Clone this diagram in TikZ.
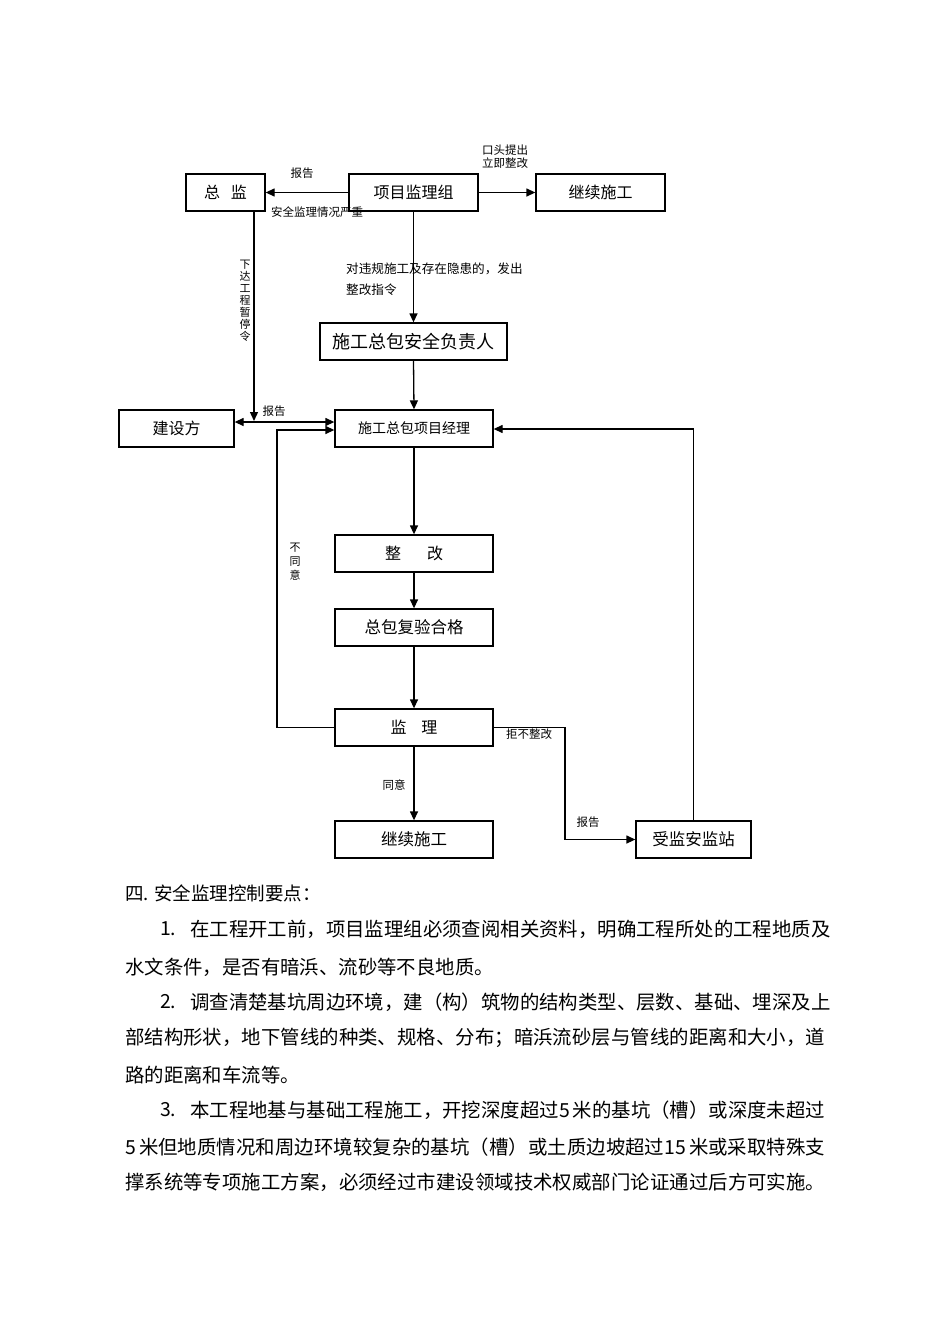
\documentclass[tikz,border=0pt]{standalone}
\usepackage{fontspec}
\setmainfont{Noto Sans CJK SC}
\usetikzlibrary{arrows.meta}
\makeatletter
\def\jlfirst#1{#1\jl@}
\def\jl@#1{\ifx#1\relax\else\hskip0pt plus1fil\relax#1\expandafter\jl@\fi}
\makeatother
\def\jsp{\kern3pt}
\def\jfifteen{15}
\newcommand{\jline}[2]{\hbox to #1{\jlfirst #2\relax}}
\tikzset{
  box/.style={draw, line width=1.3pt, inner sep=0pt, minimum height=37pt, font=\fontsize{16}{16}\selectfont},
  arr/.style={line width=1.3pt, -{Triangle[length=9pt,width=8pt]}},
  dblarr/.style={line width=1.3pt, {Triangle[length=9pt,width=8pt]}-{Triangle[length=9pt,width=8pt]}},
  lab/.style={inner sep=0pt, font=\fontsize{11.5}{13}\selectfont},
  vlab/.style={inner sep=0pt, align=center, font=\fontsize{11}{12}\selectfont},
  body/.style={inner sep=0pt, anchor=west, font=\fontsize{19.4}{19.4}\selectfont},
}
\begin{document}
\begin{tikzpicture}[x=1pt,y=-1pt]
\useasboundingbox[fill=white] (0,0) rectangle (950,1344);
% boxes
\node[box, minimum width=79pt] (zj) at (225.5,192.5) {总\hspace{11pt}监};
\node[box, minimum width=129pt] (xm) at (413.5,192.5) {项目监理组};
\node[box, minimum width=129pt] (jx1) at (600.5,192.5) {继续施工};
\node[box, minimum width=187pt, font=\fontsize{18}{18}\selectfont] (aq) at (413.5,341.5) {施工总包安全负责人};
\node[box, minimum width=115pt] (js) at (176.5,428.5) {建设方};
\node[box, minimum width=158pt, font=\fontsize{14}{14}\selectfont] (jl) at (414,428.5) {施工总包项目经理};
\node[box, minimum width=158pt] (zg) at (414,553.5) {整\hspace{26pt}改};
\node[box, minimum width=158pt, font=\fontsize{16.5}{16.5}\selectfont] (fy) at (414,627.5) {总包复验合格};
\node[box, minimum width=158pt] (ji) at (414,727.5) {监\hspace{15pt}理};
\node[box, minimum width=158pt, font=\fontsize{16.5}{16.5}\selectfont] (jx2) at (414,839.5) {继续施工};
\node[box, minimum width=115pt, font=\fontsize{16.5}{16.5}\selectfont] (sj) at (693.5,839.5) {受监安监站};
% helper coordinates
\coordinate (zjd) at (254,421);
\coordinate (lp) at (277,430);
\coordinate (rp) at (693.5,429);
\coordinate (rf) at (565,727.5);
% connectors
\draw[arr] (xm.west) -- (zj.east);
\draw[arr] (xm.east) -- (jx1.west);
\draw[arr] (xm.south) -- (aq.north);
\draw[arr] (aq.south) -- (jl.north);
\draw[arr] (zj.south -| zjd) -- (zjd);
\draw[dblarr] ([yshift=6.5pt]js.east) -- ([yshift=6.5pt]jl.west);
\draw[arr] (ji.west) -| (lp) -- (lp -| jl.west);
\draw[arr] (sj.north) -- (rp) -- (rp -| jl.east);
\draw[arr] (jl.south) -- (zg.north);
\draw[arr] (zg.south) -- (fy.north);
\draw[arr] (fy.south) -- (ji.north);
\draw[arr] (ji.south) -- (jx2.north);
\draw[arr] (ji.east) -- (rf) |- (sj.west);
% labels
\node[lab] (l1) at (302,173) {报告};
\node[lab, anchor=west] (l2) at (271,212) {安全监理情况严重};
\node[lab, align=left] (l3) at (505,157) {口头提出\\立即整改};
\node[inner sep=0pt, anchor=west, font=\fontsize{12.6}{12.6}\selectfont] (l4) at (346,269) {对违规施工及存在隐患的，发出};
\node[inner sep=0pt, anchor=west, font=\fontsize{12.6}{12.6}\selectfont] (l5) at (346,290) {整改指令};
\node[vlab] (l6) at (245,301) {下\\达\\工\\程\\暂\\停\\令};
\node[lab] (l7) at (274,411) {报告};
\node[vlab, font=\fontsize{11}{14}\selectfont] (l8) at (295,562) {不\\同\\意};
\node[lab] (l9) at (394,785) {同意};
\node[lab] (l10) at (529,734) {拒不整改};
\node[lab] (l11) at (588,822) {报告};
% body text
\node[body, font=\fontsize{18.5}{18.5}\selectfont] (h0) at (125,893) {四. 安全监理控制要点：};
\node[body] (n1) at (160,929) {1.};
\node[body] (t1) at (190,929) {\jline{635pt}{在工程开工前，项目监理组必须查阅相关资料，明确工程所处的工程地质及}};
\node[body] (t2) at (125,967) {水文条件，是否有暗浜、流砂等不良地质。};
\node[body] (n2) at (160,1002) {2.};
\node[body] (t3) at (190,1002) {\jline{635pt}{调查清楚基坑周边环境，建（构）筑物的结构类型、层数、基础、埋深及上}};
\node[body] (t4) at (125,1038) {\jline{700pt}{部结构形状，地下管线的种类、规格、分布；暗浜流砂层与管线的距离和大小，道}};
\node[body] (t5) at (125,1075) {路的距离和车流等。};
\node[body] (n3) at (160,1110) {3.};
\node[body] (t6) at (190,1110) {\jline{635pt}{本工程地基与基础工程施工，开挖深度超过5\jsp 米的基坑（槽）或深度未超过}};
\node[body] (t7) at (125,1147) {\jline{700pt}{5\jsp 米但地质情况和周边环境较复杂的基坑（槽）或土质边坡超过\jfifteen\jsp 米或采取特殊支}};
\node[body] (t8) at (125,1182) {\jline{700pt}{撑系统等专项施工方案，必须经过市建设领域技术权威部门论证通过后方可实施。}};
\end{tikzpicture}
\end{document}
